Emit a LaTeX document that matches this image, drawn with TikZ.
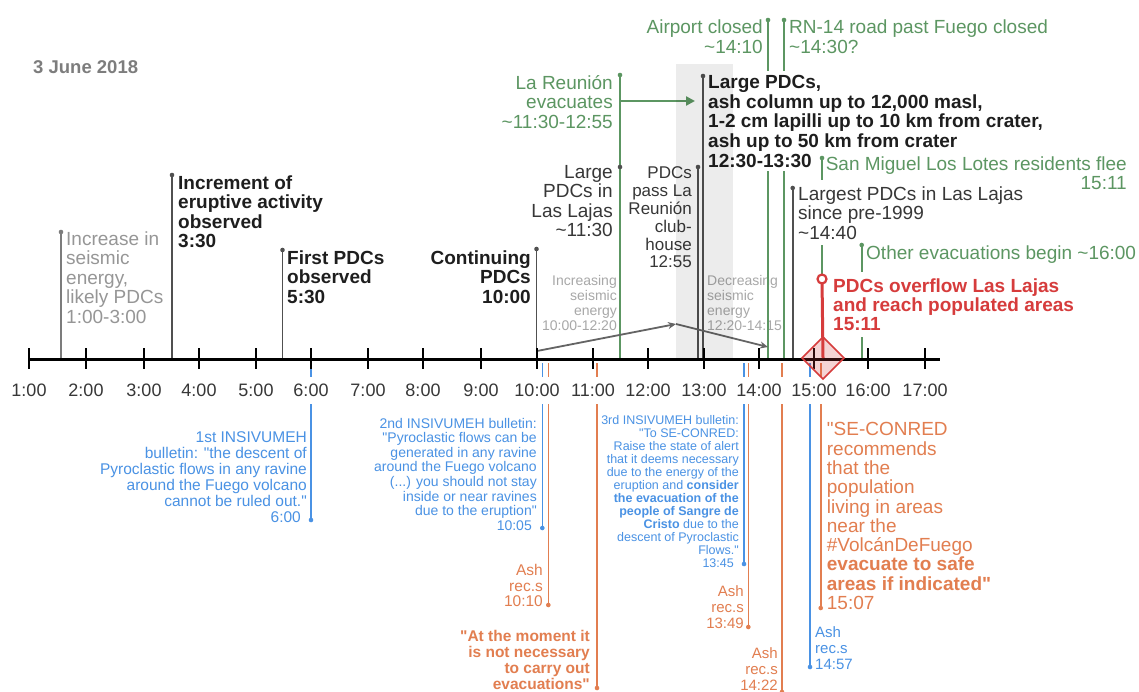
\documentclass[tikz,border=0pt]{standalone}
\usepackage{fontspec}
\setmainfont{Liberation Sans}[Ligatures=TeXOff]
\usetikzlibrary{arrows.meta}
\definecolor{grn}{RGB}{92,150,98}
\definecolor{blu}{RGB}{74,146,228}
\definecolor{org}{RGB}{226,126,80}
\definecolor{rd}{RGB}{214,60,60}
\definecolor{ltgray}{RGB}{150,150,150}
\definecolor{seis}{RGB}{168,168,168}
\definecolor{dk}{RGB}{30,30,30}
\definecolor{midc}{RGB}{55,55,55}
\definecolor{lnc}{RGB}{80,80,80}
\definecolor{shd}{RGB}{236,236,236}
\definecolor{arrc}{RGB}{100,100,100}
\definecolor{dategray}{RGB}{125,125,125}
\newcommand{\fsz}[2]{\fontsize{#1pt}{#2pt}\selectfont}
\newcommand{\tld}{\textasciitilde}
\begin{document}
\begin{tikzpicture}[x=1pt,y=-1pt,
 lnw/.style={inner sep=0pt, anchor=north west, align=left},
 lne/.style={inner sep=0pt, anchor=north east, align=right},
 vl/.style={line width=1.6pt, draw=#1},
 dot/.style={circle, fill=#1, draw=none, inner sep=0pt, minimum size=4.6pt},
 big/.style={font=\fsz{19}{19.5}},
 bigb/.style={font=\fsz{19}{19.6}\bfseries},
 hour/.style={fill=white, inner xsep=1pt, inner ysep=7pt, text height=13pt, text depth=0pt, font=\fsz{18}{18}, text=midc},
 tick/.style={line width=2.2pt, draw=black},
]
\useasboundingbox (0,0) rectangle (1139,691);
\fill[white] (0,0) rectangle (1139,691);

% date
\node[lnw, font=\fsz{18.5}{18.5}\bfseries, text=dategray] (date) at (33,60.3) {3 June 2018};

% ---------------- below axis lines ----------------
\coordinate (b1a) at (311,363);   \coordinate (b1e) at (311,520);
\coordinate (b2a) at (542.3,363); \coordinate (b2e) at (542.3,528);
\coordinate (o1a) at (548.3,363); \coordinate (o1e) at (548.3,605);
\coordinate (o2a) at (597,363);   \coordinate (o2e) at (597,688);
\coordinate (b3a) at (744,363);   \coordinate (b3e) at (744,564);
\coordinate (o3a) at (748.3,363); \coordinate (o3e) at (748.3,627);
\coordinate (o4a) at (782,363);   \coordinate (o4e) at (782,692);
\coordinate (b4a) at (810,363);   \coordinate (b4e) at (810,667);
\coordinate (o5a) at (820.7,363); \coordinate (o5e) at (820.7,608);
\foreach \a/\c in {b1/blu,b2/blu,o1/org,o2/org,b3/blu,o3/org,o4/org,b4/blu,o5/org}{
  \draw[vl=\c] (\a a) -- (\a e);
  \node[dot=\c] (\a d) at (\a e) {};
}

% texts below axis
\node[lne, font=\fsz{15.5}{16.1}, text=blu] (b1) at (307,431.4)
 {1st INSIVUMEH\\bulletin: "the descent of\\Pyroclastic flows in any ravine\\around the Fuego volcano\\cannot be ruled out."\\6:00\hspace*{6pt}};
\node[lne, font=\fsz{14}{14.6}, text=blu] (b2) at (537,417.7)
 {2nd INSIVUMEH bulletin:\\"Pyroclastic flows can be\\generated in any ravine\\around the Fuego volcano\\(...) you should not stay\\inside or near ravines\\due to the eruption"\\10:05\hspace*{5pt}};
\node[lne, font=\fsz{15.5}{15.5}, text=org] (o1) at (543,564.4) {Ash\\rec.s\\10:10};
\node[lne, font=\fsz{15.5}{16}\bfseries, text=org] (o2) at (590,630)
 {"At the moment it\\is not necessary\\to carry out\\evacuations"};
\node[lne, font=\fsz{12.5}{13}, text=blu] (b3) at (739,415.5)
 {3rd INSIVUMEH bulletin:\\"To SE-CONRED:\\Raise the state of alert\\that it deems necessary\\due to the energy of the\\eruption and \textbf{consider}\\\textbf{the evacuation of the}\\\textbf{people of Sangre de}\\\textbf{Cristo} due to the\\descent of Pyroclastic\\Flows."\\13:45\hspace*{5pt}};
\node[lne, font=\fsz{15}{16}, text=org] (o3) at (744,585.6) {Ash\\rec.s\\13:49};
\node[lne, font=\fsz{15}{16}, text=org] (o4) at (778,647) {Ash\\rec.s\\14:22};
\node[lnw, font=\fsz{15}{16}, text=blu] (b4) at (815,626.3) {Ash\\rec.s\\14:57};
\node[lnw, font=\fsz{19}{19.27}, text=org] (o5) at (826.7,422.5)
 {"SE-CONRED\\recommends\\that the\\population\\living in areas\\near the\\\#VolcánDeFuego\\\textbf{evacuate to safe}\\\textbf{areas if indicated"}\\15:07};

% ---------------- above axis ----------------
% e1
\coordinate (e1b) at (61,359); \coordinate (e1t) at (61,232);
\draw[vl=lnc!75] (e1b) -- (e1t); \node[dot=lnc!75] (e1d) at (e1t) {};
\node[lnw, big, text=ltgray] (e1) at (66,231.2) {Increase in\\seismic\\energy,\\likely PDCs\\1:00-3:00};
% e2
\coordinate (e2b) at (172,359); \coordinate (e2t) at (172,175);
\draw[vl=lnc] (e2b) -- (e2t); \node[dot=lnc] (e2d) at (e2t) {};
\node[lnw, bigb, text=dk] (e2) at (178,175.2) {Increment of\\eruptive activity\\observed\\3:30};
% e3
\coordinate (e3b) at (282.5,359); \coordinate (e3t) at (282.5,250);
\draw[vl=lnc] (e3b) -- (e3t); \node[dot=lnc] (e3d) at (e3t) {};
\node[lnw, bigb, text=dk] (e3) at (287,250.2) {First PDCs\\observed\\5:30};
% e4
\coordinate (e4b) at (536.5,359); \coordinate (e4t) at (536.5,249);
\draw[vl=lnc] (e4b) -- (e4t); \node[dot=lnc] (e4d) at (e4t) {};
\node[lne, bigb, text=dk] (e4) at (531,250.2) {Continuing\\PDCs\\10:00};

% seismic energy texts
\node[lne, font=\fsz{14}{15}, text=seis] (inc) at (617,275) {Increasing\\seismic\\energy\\10:00-12:20};
\node[lnw, font=\fsz{14}{15}, text=seis] (dec) at (707,275) {Decreasing\\seismic\\energy\\12:20-14:15};

% Large PDCs in Las Lajas (gray) + La Reunion (green)
\coordinate (llb) at (620,359); \coordinate (llt) at (620,167); \coordinate (lrt) at (620,75);
\draw[vl=lnc] (llb) -- (llt);
\draw[vl=grn] (llb) -- (lrt); \node[dot=grn] (lrd) at (lrt) {};
\node[dot=lnc] (lld) at (llt) {};
\node[lne, big, text=midc] (ll) at (613,165.2) {Large\\PDCs in\\Las Lajas\\\tld11:30};
\node[lne, big, text=grn] (lr) at (613,75.2) {La Reunión\\evacuates\\\tld11:30-12:55};
\coordinate (ga0) at (620,101); \coordinate (ga1) at (695,101);
\draw[grn, line width=2.4pt, -{Triangle[length=9pt,width=9pt]}] (ga0) -- (ga1);

% PDCs pass La Reunion
\coordinate (ppb) at (698,359); \coordinate (ppt) at (698,167);
\draw[vl=lnc] (ppb) -- (ppt); \node[dot=lnc] (ppd) at (ppt) {};
\node[lne, font=\fsz{17}{17.8}, text=midc] (pp) at (692,166.9) {PDCs\\pass La\\Reunión\\club-\\house\\12:55};

% Airport / RN-14
\coordinate (acb) at (768,359); \coordinate (act) at (768,20);
\draw[vl=grn] (acb) -- (act); \node[dot=grn] (acd) at (act) {};
\node[lne, font=\fsz{19}{20}, text=grn] (ac) at (763,19.2) {Airport closed\\\tld14:10};
\coordinate (rnb) at (784,359); \coordinate (rnt) at (784,20);
\draw[vl=grn] (rnb) -- (rnt); \node[dot=grn] (rnd) at (rnt) {};
\node[lnw, font=\fsz{19}{20}, text=grn] (rn) at (789,19.2) {RN-14 road past Fuego closed\\\tld14:30?};

% Large PDCs 12:30-13:30
\node[lnw, bigb, text=dk, fill=white, inner xsep=2pt, inner ysep=4pt] (lp) at (706,71.2)
 {Large PDCs,\\ash column up to 12,000 masl,\\1-2 cm lapilli up to 10 km from crater,\\ash up to 50 km from crater\\12:30-13:30};
\coordinate (lpb) at (703,359); \coordinate (lpt) at (703,76);
\draw[vl=lnc] (lpb) -- (lpt); \node[dot=lnc] (lpd) at (lpt) {};

% gray seismic arrows
\coordinate (s0) at (537,351); \coordinate (sap) at (676,324); \coordinate (s2) at (768,347);
\draw[arrc, line width=1.8pt, -{Stealth[length=8pt,width=7pt]}] (s0) -- (sap);
\draw[arrc, line width=1.8pt, -{Stealth[length=8pt,width=7pt]}] (sap) -- (s2);

% San Miguel
\coordinate (smt) at (822,158); \coordinate (smc) at (822,279);
\draw[vl=grn] (smc) -- (smt); \node[dot=grn] (smd) at (smt) {};
\node[lne, big, text=grn] (sm) at (1127,156.2) {San Miguel Los Lotes residents flee\\15:11};

% Largest PDCs
\node[lnw, big, text=midc, fill=white, inner xsep=2pt, inner ysep=6pt] (lg) at (796,180.2)
 {Largest PDCs in Las Lajas\\since pre-1999\\\tld14:40};
\coordinate (lgb) at (792.7,359); \coordinate (lgt) at (792.7,188);
\draw[vl=lnc] (lgb) -- (lgt); \node[dot=lnc] (lgd) at (lgt) {};

% Other evacuations
\coordinate (oeb) at (861.7,359); \coordinate (oet) at (861.7,245);
\draw[vl=grn] (oeb) -- (oet); \node[dot=grn] (oed) at (oet) {};
\node[lnw, big, text=grn] (oe) at (866,245.2) {Other evacuations begin \tld16:00};

% Red event
\node[lnw, font=\fsz{19}{19.3}\bfseries, text=rd, fill=white, inner xsep=2pt, inner ysep=6pt] (red) at (831,272.2)
 {PDCs overflow Las Lajas\\and reach populated areas\\15:11};

% ---------------- axis ----------------
\coordinate (axL) at (29,359); \coordinate (axR) at (940,359);
\draw[line width=3pt] (axL) -- (axR);
\foreach \x/\l [count=\i] in {29/1:00,86/2:00,144/3:00,199/4:00,256/5:00,311/6:00,368/7:00,423/8:00,481/9:00,537/10:00,593/11:00,648/12:00,704/13:00,759/14:00,814/15:00,868/16:00,925/17:00}{
  \draw[tick] (\x,348) -- (\x,369);
  \node[hour] (h\i) at (\x,390) {\l};
}

% red marker: circle, stem, diamond
\coordinate (dia) at (823,358);
\draw[rd, line width=3pt] (smc) -- (dia);
\node[circle, draw=rd, fill=white, line width=2.2pt, minimum size=9pt, inner sep=0pt] (rc) at (smc) {};
\coordinate (dN) at (823,337); \coordinate (dE) at (844,358); \coordinate (dS) at (823,379); \coordinate (dW) at (802,358);
\filldraw[draw=rd, fill=rd, fill opacity=0.22, line width=1.5pt] (dN) -- (dE) -- (dS) -- (dW) -- cycle;

% shaded band 12:30-13:30 (multiplied over everything beneath)
\fill[shd, blend mode=multiply] (676,64) rectangle (733,357.5);

\end{tikzpicture}
\end{document}
